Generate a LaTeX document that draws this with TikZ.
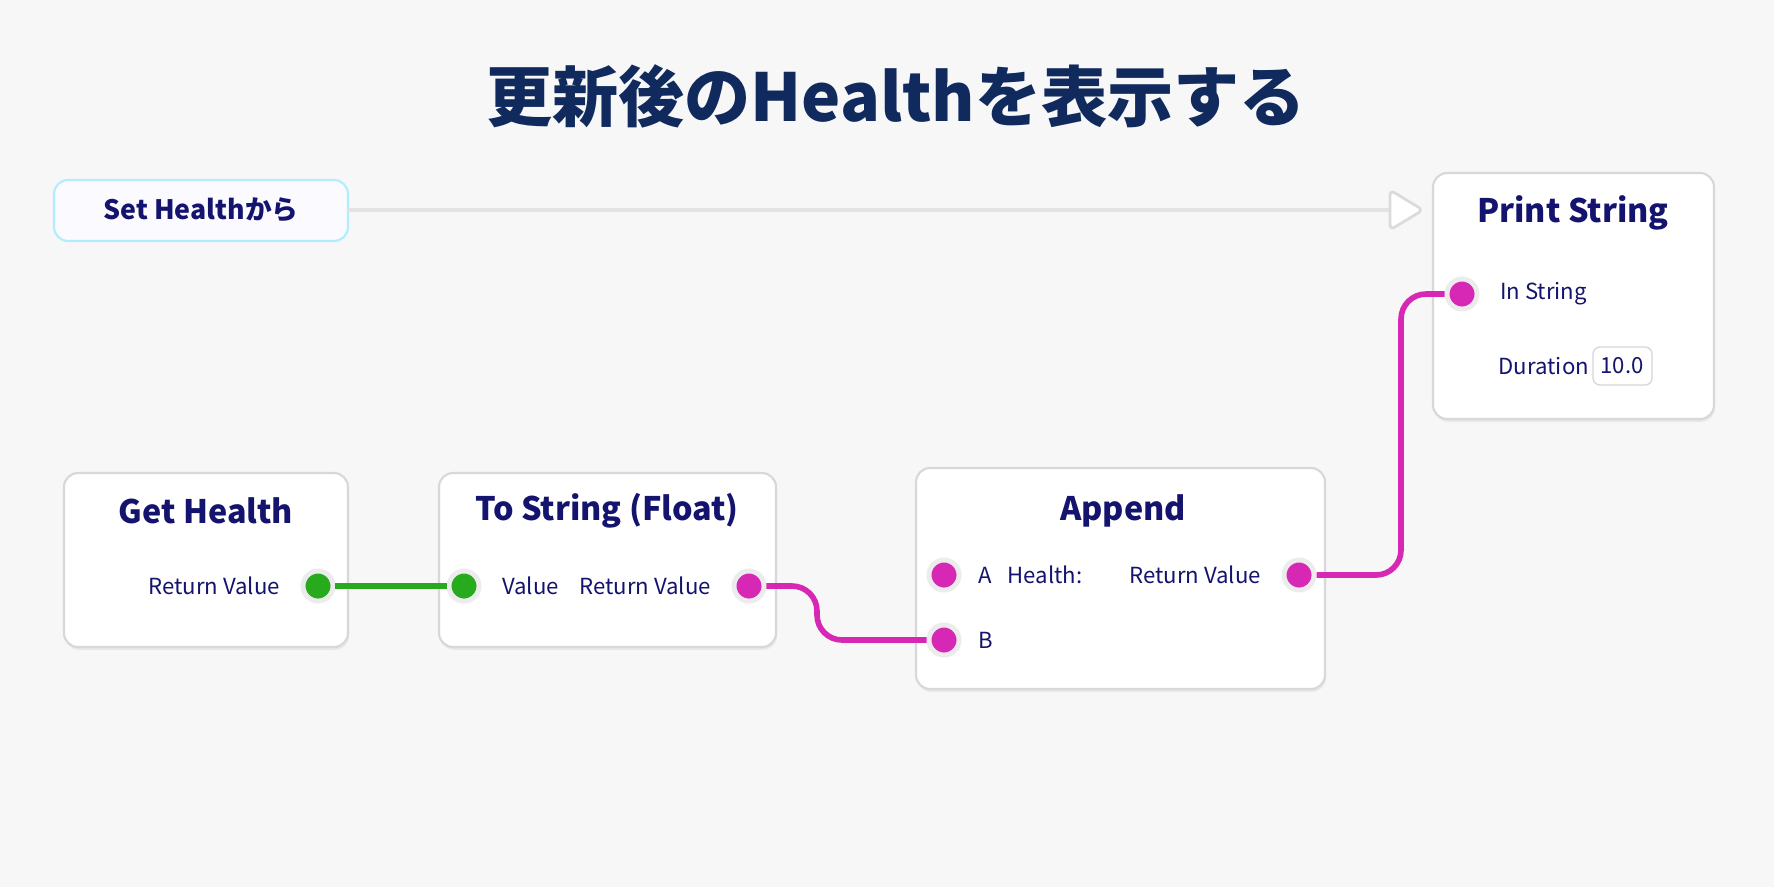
\documentclass[tikz,border=0pt]{standalone}
\usepackage{fontspec}
\setmainfont{Noto Sans CJK JP}
\usetikzlibrary{positioning}
\usetikzlibrary{shadows}
\definecolor{navy}{RGB}{20,20,110}
\definecolor{titleblue}{RGB}{16,42,94}
\definecolor{pinpink}{RGB}{214,40,180}
\definecolor{pingreen}{RGB}{40,170,30}
\definecolor{boxline}{RGB}{215,215,220}

\tikzset{
	card/.style={draw=boxline,fill=white,rounded corners=4pt,line width=0.6pt,
		drop shadow={opacity=0.12,shadow xshift=0.3pt,shadow yshift=-0.8pt}},
	cardtitle/.style={text=navy,font=\bfseries\fontsize{9.2}{11}\selectfont},
	pinlabel/.style={text=navy,font=\fontsize{6.3}{8}\selectfont,inner sep=0pt},
	pin/.style={circle,draw=gray!15,line width=1.4pt,inner sep=0pt,minimum size=0.3cm},
	wire/.style={line width=1.6pt,rounded corners=0.25cm},
}

\begin{document}
\begin{tikzpicture}[x=0.01cm,y=-0.01cm]
	\fill[gray!6] (0,0) rectangle (1774,887);
	\useasboundingbox (0,0) rectangle (1774,887);

	\node [text=titleblue,font=\bfseries\fontsize{18.8}{22}\selectfont] (title) at (896,96) {更新後のHealthを表示する};

	% exec start
	\draw [draw=blue!25!cyan!30,fill=blue!2,rounded corners=4pt,line width=0.6pt] (54,180) rectangle (348,241);
	\node [text=navy,font=\bfseries\fontsize{7.6}{9}\selectfont] (sethp) at (201,210) {Set Healthから};
	\coordinate (execout) at (348,210);

	% boxes
	\draw [card] (64,473) rectangle (348,647);
	\draw [card] (439,473) rectangle (776,647);
	\draw [card] (916,468) rectangle (1325,689);
	\draw [card] (1433,173) rectangle (1714,419);

	\node [cardtitle] (gettitle) at (206,511) {Get Health};
	\node [cardtitle] (tostitle) at (607,511) {To String (Float)};
	\node [cardtitle] (apptitle) at (1123,511) {Append};
	\node [cardtitle] (prttitle) at (1573,213) {Print String};

	% exec arrow
	\coordinate (execin) at (1423,210);
	\draw [gray!22,line width=1.4pt] (execout) -- (1392,210);
	\draw [gray!28,fill=white,line width=0.8pt,rounded corners=1.5pt] (1390,190) -- (1423,210) -- (1390,230) -- cycle;

	% pins
	\node [pin,fill=pingreen] (getout) at (318,586) {};
	\node [pin,fill=pingreen] (tosin) at (464,586) {};
	\node [pin,fill=pinpink] (tosout) at (749,586) {};
	\node [pin,fill=pinpink] (appa) at (944,575) {};
	\node [pin,fill=pinpink] (appb) at (944,640) {};
	\node [pin,fill=pinpink] (appout) at (1299,575) {};
	\node [pin,fill=pinpink] (prtin) at (1462,294) {};

	\node [pinlabel,left=0.2cm of getout] {Return Value};
	\node [pinlabel,right=0.2cm of tosin] {Value};
	\node [pinlabel,left=0.2cm of tosout] {Return Value};
	\node [pinlabel,right=0.16cm of appa] (labela) {A};
	\node [pinlabel,anchor=west] at (1007,575) {Health:};
	\node [pinlabel,right=0.16cm of appb] {B};
	\node [pinlabel,left=0.2cm of appout] {Return Value};
	\node [pinlabel,right=0.2cm of prtin] {In String};
	\node [pinlabel,anchor=west] (dur) at (1498,366) {Duration};
	\draw [boxline,fill=white,rounded corners=2pt] (1593,347) rectangle (1652,385);
	\node [pinlabel] (durval) at (1622,366) {10.0};

	% wires
	\draw [wire,pingreen] (getout) -- (tosin);
	\draw [wire,pinpink] (tosout) -- (817,586) -- (817,640) -- (appb);
	\draw [wire,pinpink] (appout) -- (1401,575) -- (1401,294) -- (prtin);
\end{tikzpicture}
\end{document}
